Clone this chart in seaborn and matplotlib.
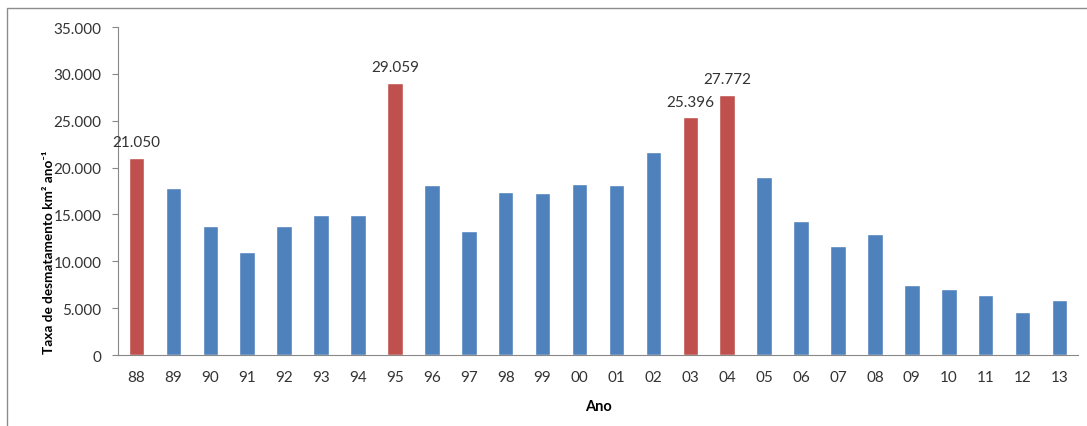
import matplotlib
matplotlib.use("Agg")
import matplotlib.pyplot as plt
import matplotlib.ticker as mticker
from matplotlib.patches import Rectangle
import seaborn as sns
import pandas as pd

years = ["88", "89", "90", "91", "92", "93", "94", "95", "96", "97", "98", "99", "00",
         "01", "02", "03", "04", "05", "06", "07", "08", "09", "10", "11", "12", "13"]
rates = [21050, 17770, 13730, 11030, 13786, 14896, 14896, 29059, 18161, 13227, 17383,
         17259, 18226, 18165, 21651, 25396, 27772, 19014, 14286, 11651, 12911, 7464,
         7000, 6418, 4571, 5891]
peak_years = ["88", "95", "03", "04"]

df = pd.DataFrame({"ano": years, "taxa": rates})
df["pico"] = df["ano"].isin(peak_years)

sns.set_style("white")
plt.rcParams["font.family"] = ["Lato", "DejaVu Sans"]

fig = plt.figure(figsize=(10.87, 4.27), dpi=100)
ax = fig.add_axes([118 / 1087, 1 - 356 / 427, 960 / 1087, 328 / 427])

# figure frame
fig.patches.append(Rectangle((7 / 1087, -0.05), 1.2, 1 - 9 / 427 + 0.05,
                             transform=fig.transFigure, fill=False,
                             edgecolor="#8c8c8c", linewidth=1.0))

sns.barplot(data=df, x="ano", y="taxa", hue="pico", order=years,
            palette={False: "#4F81BD", True: "#C0504D"}, dodge=False,
            width=0.42, legend=False, saturation=1, ax=ax)

for cont in ax.containers:
    labels = []
    for bar in cont:
        h = bar.get_height()
        idx = int(round(bar.get_x() + bar.get_width() / 2))
        if years[idx] in peak_years and h > 0:
            labels.append(f"{int(h):,}".replace(",", "."))
        else:
            labels.append("")
    ax.bar_label(cont, labels=labels, padding=6, fontsize=11, color="#333333")

ax.set_xlim(-0.5, len(years) - 0.5)
ax.set_ylim(0, 35000)
ax.yaxis.set_major_locator(mticker.MultipleLocator(5000))
ax.yaxis.set_major_formatter(mticker.FuncFormatter(
    lambda v, p: f"{int(v):,}".replace(",", ".")))

ax.set_xticks(range(len(years)))
ax.set_xticklabels(years)
ax.set_xticks([i - 0.5 for i in range(len(years) + 1)], minor=True)
ax.tick_params(axis="x", which="major", length=0, pad=11, labelsize=11, colors="#333333")
ax.tick_params(axis="x", which="minor", length=4, color="#888888", width=0.8)
ax.tick_params(axis="y", which="major", length=4, color="#888888", width=0.8,
               pad=8, labelsize=11, labelcolor="#333333", left=True)

for side in ["top", "right"]:
    ax.spines[side].set_visible(False)
for side in ["left", "bottom"]:
    ax.spines[side].set_color("#888888")
    ax.spines[side].set_linewidth(0.8)

ax.set_xlabel("Ano", fontsize=10.5, fontweight="bold", color="#000000")
ax.xaxis.set_label_coords(0.5, -0.135)
ax.set_ylabel("Taxa de desmatamento km² ano⁻¹", fontsize=9.8,
              fontweight="bold", color="#000000")
ax.yaxis.set_label_coords(-0.066, 0.315)

fig.savefig("out.png", dpi=100)
